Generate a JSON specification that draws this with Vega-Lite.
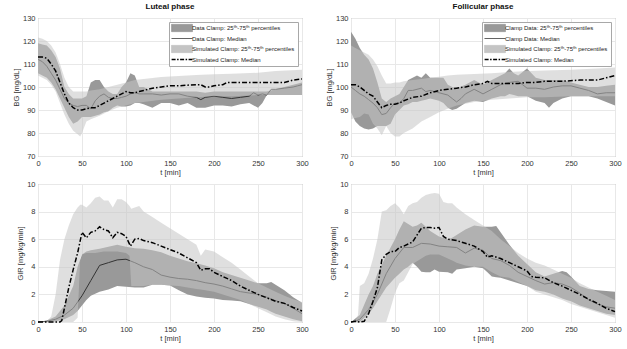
{
"$schema": "https://vega.github.io/schema/vega-lite/v6.json",
"background": "white",
"padding": {"left": 11, "top": 2, "right": 5, "bottom": 2},
"config": {
  "font": "Liberation Sans",
  "view": {"stroke": "#9a9a9a", "strokeWidth": 1},
  "axis": {"labelFontSize": 7.5, "titleFontSize": 7.5, "titleFontWeight": "normal", "labelColor": "#333333", "titleColor": "#333333", "gridColor": "#e8e8e8", "ticks": false, "domain": false, "labelPadding": 3, "titlePadding": 2, "labelFlush": false, "labelOverlap": false},
  "title": {"fontSize": 8, "fontWeight": "bold", "offset": 3, "color": "#111111"},
  "legend": {"orient": "top-right", "offset": 4, "title": null, "fillColor": "white", "strokeColor": "#a8a8a8", "padding": 3, "labelFontSize": 6, "labelColor": "#222222", "symbolSize": 64, "rowPadding": 1.5, "labelOffset": 7, "symbolOffset": 7, "labelLimit": 200}
},
"datasets": {
"lb": [
{"t":0,"s":"dband","y":106,"y2":119},{"t":5,"s":"dband","y":105,"y2":118.5},{"t":10,"s":"dband","y":104,"y2":118},{"t":15,"s":"dband","y":102,"y2":116},{"t":20,"s":"dband","y":99,"y2":113},{"t":25,"s":"dband","y":95,"y2":108},{"t":30,"s":"dband","y":91,"y2":100},{"t":35,"s":"dband","y":87,"y2":97},{"t":40,"s":"dband","y":84,"y2":95},{"t":45,"s":"dband","y":85,"y2":95},{"t":50,"s":"dband","y":87,"y2":95},{"t":55,"s":"dband","y":87,"y2":96},{"t":60,"s":"dband","y":87,"y2":102},{"t":65,"s":"dband","y":87.5,"y2":103},{"t":70,"s":"dband","y":88,"y2":103},{"t":75,"s":"dband","y":89,"y2":100},{"t":80,"s":"dband","y":89.5,"y2":98},{"t":85,"s":"dband","y":91,"y2":97},{"t":90,"s":"dband","y":92,"y2":97},{"t":95,"s":"dband","y":91.5,"y2":100},{"t":100,"s":"dband","y":91.5,"y2":102},{"t":105,"s":"dband","y":92,"y2":106},{"t":110,"s":"dband","y":93,"y2":105},{"t":115,"s":"dband","y":93,"y2":100},{"t":120,"s":"dband","y":92.5,"y2":100},{"t":130,"s":"dband","y":91,"y2":98},{"t":140,"s":"dband","y":93,"y2":98},{"t":150,"s":"dband","y":93,"y2":98},{"t":160,"s":"dband","y":92,"y2":98},{"t":170,"s":"dband","y":93,"y2":98},{"t":180,"s":"dband","y":91,"y2":98},{"t":190,"s":"dband","y":91,"y2":97.5},{"t":200,"s":"dband","y":92,"y2":98},{"t":210,"s":"dband","y":92,"y2":98},{"t":220,"s":"dband","y":91.5,"y2":98},{"t":230,"s":"dband","y":92.5,"y2":98},{"t":240,"s":"dband","y":93,"y2":98},{"t":250,"s":"dband","y":91,"y2":98},{"t":255,"s":"dband","y":93,"y2":98},{"t":260,"s":"dband","y":96.5,"y2":98},{"t":270,"s":"dband","y":96.5,"y2":99},{"t":280,"s":"dband","y":96.5,"y2":100},{"t":290,"s":"dband","y":96.5,"y2":101},{"t":300,"s":"dband","y":96.5,"y2":102},
{"t":0,"s":"sband","y":105,"y2":121.5},{"t":5,"s":"sband","y":104,"y2":121},{"t":10,"s":"sband","y":103,"y2":120},{"t":15,"s":"sband","y":101,"y2":118},{"t":20,"s":"sband","y":98,"y2":115},{"t":25,"s":"sband","y":93,"y2":110},{"t":30,"s":"sband","y":88,"y2":104},{"t":35,"s":"sband","y":84,"y2":100},{"t":40,"s":"sband","y":81,"y2":98},{"t":45,"s":"sband","y":79.5,"y2":98},{"t":48,"s":"sband","y":78.5,"y2":98},{"t":50,"s":"sband","y":80,"y2":98},{"t":55,"s":"sband","y":85,"y2":98},{"t":60,"s":"sband","y":86,"y2":98.5},{"t":70,"s":"sband","y":87.5,"y2":99},{"t":80,"s":"sband","y":89.5,"y2":100},{"t":90,"s":"sband","y":91,"y2":101},{"t":100,"s":"sband","y":92,"y2":102},{"t":110,"s":"sband","y":93,"y2":103},{"t":120,"s":"sband","y":93.5,"y2":103.5},{"t":140,"s":"sband","y":94.5,"y2":104.3},{"t":160,"s":"sband","y":95,"y2":104.8},{"t":180,"s":"sband","y":95.5,"y2":105.2},{"t":200,"s":"sband","y":96,"y2":105.5},{"t":220,"s":"sband","y":96,"y2":105.8},{"t":250,"s":"sband","y":96.5,"y2":106.2},{"t":270,"s":"sband","y":96.5,"y2":107},{"t":300,"s":"sband","y":96.5,"y2":107.5},
{"t":0,"s":"dmed","y":112},{"t":5,"s":"dmed","y":111},{"t":10,"s":"dmed","y":109},{"t":15,"s":"dmed","y":106},{"t":20,"s":"dmed","y":103},{"t":25,"s":"dmed","y":99},{"t":30,"s":"dmed","y":95},{"t":35,"s":"dmed","y":93},{"t":40,"s":"dmed","y":92},{"t":45,"s":"dmed","y":91.5},{"t":50,"s":"dmed","y":92},{"t":55,"s":"dmed","y":92},{"t":60,"s":"dmed","y":90.5},{"t":65,"s":"dmed","y":94},{"t":70,"s":"dmed","y":96},{"t":75,"s":"dmed","y":97},{"t":80,"s":"dmed","y":95.5},{"t":85,"s":"dmed","y":95},{"t":90,"s":"dmed","y":95},{"t":95,"s":"dmed","y":95.5},{"t":100,"s":"dmed","y":96},{"t":105,"s":"dmed","y":97},{"t":110,"s":"dmed","y":97.5},{"t":115,"s":"dmed","y":97},{"t":120,"s":"dmed","y":97},{"t":130,"s":"dmed","y":97},{"t":140,"s":"dmed","y":96.5},{"t":150,"s":"dmed","y":97},{"t":160,"s":"dmed","y":97},{"t":170,"s":"dmed","y":96},{"t":180,"s":"dmed","y":95.5},{"t":185,"s":"dmed","y":94.5},{"t":190,"s":"dmed","y":95.5},{"t":200,"s":"dmed","y":96},{"t":210,"s":"dmed","y":95.5},{"t":220,"s":"dmed","y":95},{"t":230,"s":"dmed","y":95.5},{"t":240,"s":"dmed","y":96},{"t":245,"s":"dmed","y":97.5},{"t":250,"s":"dmed","y":96.5},{"t":255,"s":"dmed","y":97},{"t":260,"s":"dmed","y":96.5},{"t":265,"s":"dmed","y":99},{"t":270,"s":"dmed","y":99},{"t":280,"s":"dmed","y":99.5},{"t":290,"s":"dmed","y":100},{"t":295,"s":"dmed","y":100.5},{"t":300,"s":"dmed","y":101},
{"t":0,"s":"smed","y":113},{"t":5,"s":"smed","y":113},{"t":10,"s":"smed","y":112.5},{"t":15,"s":"smed","y":110},{"t":20,"s":"smed","y":107},{"t":25,"s":"smed","y":102},{"t":30,"s":"smed","y":97},{"t":35,"s":"smed","y":93},{"t":40,"s":"smed","y":91},{"t":45,"s":"smed","y":90},{"t":50,"s":"smed","y":90},{"t":55,"s":"smed","y":90.5},{"t":60,"s":"smed","y":91},{"t":65,"s":"smed","y":91},{"t":70,"s":"smed","y":92},{"t":75,"s":"smed","y":93},{"t":80,"s":"smed","y":94},{"t":85,"s":"smed","y":95},{"t":90,"s":"smed","y":96},{"t":95,"s":"smed","y":97},{"t":100,"s":"smed","y":98},{"t":105,"s":"smed","y":97.5},{"t":110,"s":"smed","y":97.5},{"t":115,"s":"smed","y":98},{"t":120,"s":"smed","y":98.5},{"t":130,"s":"smed","y":99.5},{"t":140,"s":"smed","y":100},{"t":150,"s":"smed","y":100.5},{"t":160,"s":"smed","y":100.5},{"t":170,"s":"smed","y":100.8},{"t":180,"s":"smed","y":101},{"t":185,"s":"smed","y":101},{"t":190,"s":"smed","y":100},{"t":195,"s":"smed","y":100},{"t":200,"s":"smed","y":100.5},{"t":210,"s":"smed","y":101},{"t":215,"s":"smed","y":102},{"t":230,"s":"smed","y":102},{"t":250,"s":"smed","y":102},{"t":270,"s":"smed","y":102},{"t":280,"s":"smed","y":102},{"t":285,"s":"smed","y":102.5},{"t":290,"s":"smed","y":103},{"t":300,"s":"smed","y":103.5}
],
"fb": [
{"t":0,"s":"dband","y":89,"y2":124},{"t":5,"s":"dband","y":85,"y2":121},{"t":10,"s":"dband","y":83,"y2":117},{"t":15,"s":"dband","y":82,"y2":114},{"t":20,"s":"dband","y":81.5,"y2":112},{"t":25,"s":"dband","y":82,"y2":108},{"t":30,"s":"dband","y":83,"y2":102},{"t":35,"s":"dband","y":83,"y2":95},{"t":40,"s":"dband","y":83,"y2":93.5},{"t":45,"s":"dband","y":84,"y2":95},{"t":50,"s":"dband","y":88,"y2":96},{"t":55,"s":"dband","y":90,"y2":97},{"t":60,"s":"dband","y":92,"y2":100},{"t":65,"s":"dband","y":92.5,"y2":103},{"t":70,"s":"dband","y":93.5,"y2":104},{"t":75,"s":"dband","y":93.5,"y2":105},{"t":80,"s":"dband","y":94,"y2":104},{"t":85,"s":"dband","y":94.5,"y2":106},{"t":90,"s":"dband","y":95,"y2":104},{"t":100,"s":"dband","y":94,"y2":104},{"t":105,"s":"dband","y":93,"y2":104},{"t":110,"s":"dband","y":91,"y2":101},{"t":115,"s":"dband","y":90,"y2":100},{"t":120,"s":"dband","y":90.5,"y2":99.5},{"t":130,"s":"dband","y":93,"y2":101},{"t":140,"s":"dband","y":94,"y2":103},{"t":150,"s":"dband","y":93.5,"y2":101},{"t":160,"s":"dband","y":95,"y2":103},{"t":170,"s":"dband","y":96,"y2":105},{"t":175,"s":"dband","y":96,"y2":106},{"t":180,"s":"dband","y":97,"y2":108},{"t":185,"s":"dband","y":96.5,"y2":106},{"t":190,"s":"dband","y":96,"y2":105},{"t":200,"s":"dband","y":96,"y2":108},{"t":210,"s":"dband","y":94,"y2":104},{"t":220,"s":"dband","y":93,"y2":103},{"t":225,"s":"dband","y":91,"y2":103},{"t":230,"s":"dband","y":93,"y2":103},{"t":240,"s":"dband","y":95,"y2":103},{"t":250,"s":"dband","y":96,"y2":102},{"t":260,"s":"dband","y":96,"y2":101},{"t":270,"s":"dband","y":96,"y2":100},{"t":280,"s":"dband","y":95,"y2":100},{"t":290,"s":"dband","y":93.5,"y2":100.5},{"t":300,"s":"dband","y":92,"y2":101},
{"t":0,"s":"sband","y":86,"y2":118},{"t":5,"s":"sband","y":86.5,"y2":117},{"t":10,"s":"sband","y":87,"y2":116},{"t":15,"s":"sband","y":88.5,"y2":115},{"t":20,"s":"sband","y":88,"y2":114},{"t":25,"s":"sband","y":84,"y2":112},{"t":30,"s":"sband","y":82,"y2":109},{"t":35,"s":"sband","y":79,"y2":105},{"t":40,"s":"sband","y":83,"y2":101.5},{"t":45,"s":"sband","y":80,"y2":101.5},{"t":50,"s":"sband","y":78.5,"y2":102},{"t":55,"s":"sband","y":78.5,"y2":102},{"t":60,"s":"sband","y":80,"y2":102.5},{"t":70,"s":"sband","y":82,"y2":103},{"t":80,"s":"sband","y":85,"y2":103.5},{"t":90,"s":"sband","y":87,"y2":104},{"t":100,"s":"sband","y":89,"y2":104.5},{"t":110,"s":"sband","y":90.5,"y2":105},{"t":120,"s":"sband","y":92,"y2":105.3},{"t":140,"s":"sband","y":93.5,"y2":105.7},{"t":160,"s":"sband","y":94.5,"y2":106},{"t":180,"s":"sband","y":95,"y2":106.5},{"t":200,"s":"sband","y":95.5,"y2":107},{"t":220,"s":"sband","y":95.5,"y2":107.2},{"t":250,"s":"sband","y":96,"y2":107.5},{"t":280,"s":"sband","y":96,"y2":108},{"t":300,"s":"sband","y":96,"y2":108.5},
{"t":0,"s":"dmed","y":100},{"t":5,"s":"dmed","y":98.5},{"t":10,"s":"dmed","y":97},{"t":15,"s":"dmed","y":96},{"t":20,"s":"dmed","y":94.5},{"t":25,"s":"dmed","y":93},{"t":30,"s":"dmed","y":91},{"t":35,"s":"dmed","y":88},{"t":40,"s":"dmed","y":88.5},{"t":45,"s":"dmed","y":91},{"t":50,"s":"dmed","y":93},{"t":55,"s":"dmed","y":93},{"t":60,"s":"dmed","y":95},{"t":65,"s":"dmed","y":98.5},{"t":70,"s":"dmed","y":98.5},{"t":75,"s":"dmed","y":99},{"t":80,"s":"dmed","y":99.5},{"t":85,"s":"dmed","y":98},{"t":90,"s":"dmed","y":98.5},{"t":100,"s":"dmed","y":97.5},{"t":110,"s":"dmed","y":96.5},{"t":115,"s":"dmed","y":95},{"t":120,"s":"dmed","y":93.5},{"t":125,"s":"dmed","y":95},{"t":130,"s":"dmed","y":97},{"t":140,"s":"dmed","y":99},{"t":150,"s":"dmed","y":97},{"t":160,"s":"dmed","y":99},{"t":170,"s":"dmed","y":101},{"t":180,"s":"dmed","y":102},{"t":190,"s":"dmed","y":102.5},{"t":195,"s":"dmed","y":101},{"t":200,"s":"dmed","y":99.5},{"t":210,"s":"dmed","y":99.5},{"t":220,"s":"dmed","y":99},{"t":230,"s":"dmed","y":100},{"t":240,"s":"dmed","y":100.5},{"t":250,"s":"dmed","y":100.5},{"t":260,"s":"dmed","y":99.5},{"t":270,"s":"dmed","y":98.5},{"t":280,"s":"dmed","y":97},{"t":290,"s":"dmed","y":97.5},{"t":300,"s":"dmed","y":97.5},
{"t":0,"s":"smed","y":101},{"t":5,"s":"smed","y":101},{"t":10,"s":"smed","y":100},{"t":15,"s":"smed","y":98.5},{"t":20,"s":"smed","y":97},{"t":25,"s":"smed","y":96},{"t":30,"s":"smed","y":93.5},{"t":35,"s":"smed","y":91},{"t":40,"s":"smed","y":92},{"t":45,"s":"smed","y":92.5},{"t":50,"s":"smed","y":92.5},{"t":55,"s":"smed","y":93},{"t":60,"s":"smed","y":94},{"t":70,"s":"smed","y":95.5},{"t":80,"s":"smed","y":96},{"t":90,"s":"smed","y":97.5},{"t":100,"s":"smed","y":98.5},{"t":110,"s":"smed","y":99},{"t":120,"s":"smed","y":99.5},{"t":130,"s":"smed","y":100},{"t":140,"s":"smed","y":101},{"t":150,"s":"smed","y":101.5},{"t":155,"s":"smed","y":102.5},{"t":160,"s":"smed","y":101.5},{"t":170,"s":"smed","y":101.5},{"t":180,"s":"smed","y":101.5},{"t":190,"s":"smed","y":101.5},{"t":200,"s":"smed","y":102},{"t":210,"s":"smed","y":102},{"t":220,"s":"smed","y":102.5},{"t":240,"s":"smed","y":102.5},{"t":260,"s":"smed","y":103},{"t":280,"s":"smed","y":103},{"t":290,"s":"smed","y":104},{"t":300,"s":"smed","y":105}
],
"lg": [
{"t":0,"s":"dband","y":0,"y2":0},{"t":10,"s":"dband","y":0,"y2":0.1},{"t":20,"s":"dband","y":0.05,"y2":0.4},{"t":30,"s":"dband","y":0.2,"y2":1.2},{"t":40,"s":"dband","y":0.5,"y2":2.6},{"t":45,"s":"dband","y":0.8,"y2":4.0},{"t":50,"s":"dband","y":1.2,"y2":4.9},{"t":55,"s":"dband","y":1.6,"y2":5.1},{"t":60,"s":"dband","y":1.9,"y2":5.2},{"t":70,"s":"dband","y":2.2,"y2":5.3},{"t":80,"s":"dband","y":2.35,"y2":5.45},{"t":90,"s":"dband","y":2.6,"y2":5.6},{"t":100,"s":"dband","y":2.55,"y2":5.45},{"t":110,"s":"dband","y":2.5,"y2":5.35},{"t":120,"s":"dband","y":2.5,"y2":5.3},{"t":130,"s":"dband","y":2.7,"y2":5.2},{"t":140,"s":"dband","y":2.7,"y2":5.05},{"t":150,"s":"dband","y":2.65,"y2":4.8},{"t":160,"s":"dband","y":2.3,"y2":4.6},{"t":170,"s":"dband","y":2.0,"y2":4.4},{"t":180,"s":"dband","y":1.85,"y2":4.25},{"t":190,"s":"dband","y":1.75,"y2":4.1},{"t":200,"s":"dband","y":1.7,"y2":3.9},{"t":210,"s":"dband","y":1.6,"y2":3.6},{"t":220,"s":"dband","y":1.55,"y2":3.4},{"t":230,"s":"dband","y":1.5,"y2":3.2},{"t":240,"s":"dband","y":1.3,"y2":3.0},{"t":250,"s":"dband","y":1.1,"y2":2.8},{"t":260,"s":"dband","y":0.9,"y2":2.8},{"t":265,"s":"dband","y":0.75,"y2":2.9},{"t":270,"s":"dband","y":0.6,"y2":2.7},{"t":280,"s":"dband","y":0.4,"y2":2.3},{"t":290,"s":"dband","y":0.2,"y2":1.8},{"t":300,"s":"dband","y":0.05,"y2":1.4},
{"t":0,"s":"sband","y":0,"y2":0},{"t":10,"s":"sband","y":0,"y2":0.05},{"t":15,"s":"sband","y":0,"y2":0.4},{"t":20,"s":"sband","y":0,"y2":2.0},{"t":25,"s":"sband","y":0,"y2":4.5},{"t":30,"s":"sband","y":0,"y2":6.0},{"t":35,"s":"sband","y":0,"y2":7.0},{"t":40,"s":"sband","y":0,"y2":7.8},{"t":45,"s":"sband","y":0.3,"y2":8.3},{"t":48,"s":"sband","y":4.6,"y2":8.5},{"t":50,"s":"sband","y":4.9,"y2":8.5},{"t":55,"s":"sband","y":5.0,"y2":8.3},{"t":60,"s":"sband","y":5.0,"y2":8.6},{"t":65,"s":"sband","y":5.0,"y2":9.0},{"t":70,"s":"sband","y":5.05,"y2":9.1},{"t":75,"s":"sband","y":5.1,"y2":8.8},{"t":80,"s":"sband","y":5.1,"y2":8.8},{"t":85,"s":"sband","y":5.1,"y2":8.3},{"t":90,"s":"sband","y":5.1,"y2":8.9},{"t":95,"s":"sband","y":5.05,"y2":8.9},{"t":100,"s":"sband","y":5.0,"y2":8.7},{"t":104,"s":"sband","y":4.8,"y2":8.4},{"t":106,"s":"sband","y":2.6,"y2":8.2},{"t":110,"s":"sband","y":2.6,"y2":8.3},{"t":115,"s":"sband","y":2.6,"y2":8.4},{"t":120,"s":"sband","y":2.6,"y2":8.0},{"t":130,"s":"sband","y":2.7,"y2":7.6},{"t":140,"s":"sband","y":2.7,"y2":7.2},{"t":150,"s":"sband","y":2.65,"y2":6.8},{"t":160,"s":"sband","y":2.6,"y2":6.4},{"t":170,"s":"sband","y":2.5,"y2":6.0},{"t":180,"s":"sband","y":2.4,"y2":5.6},{"t":185,"s":"sband","y":2.35,"y2":4.8},{"t":190,"s":"sband","y":2.3,"y2":5.25},{"t":200,"s":"sband","y":2.2,"y2":5.1},{"t":210,"s":"sband","y":2.0,"y2":4.7},{"t":220,"s":"sband","y":1.8,"y2":4.3},{"t":230,"s":"sband","y":1.6,"y2":3.8},{"t":240,"s":"sband","y":1.3,"y2":3.3},{"t":250,"s":"sband","y":1.0,"y2":2.8},{"t":260,"s":"sband","y":0.7,"y2":2.5},{"t":270,"s":"sband","y":0.4,"y2":2.2},{"t":280,"s":"sband","y":0.2,"y2":1.9},{"t":290,"s":"sband","y":0.05,"y2":1.65},{"t":300,"s":"sband","y":0,"y2":1.45},
{"t":0,"s":"dmed","y":0},{"t":10,"s":"dmed","y":0.05},{"t":20,"s":"dmed","y":0.2},{"t":30,"s":"dmed","y":0.5},{"t":40,"s":"dmed","y":1.0},{"t":50,"s":"dmed","y":1.9},{"t":60,"s":"dmed","y":3.0},{"t":70,"s":"dmed","y":4.1},{"t":80,"s":"dmed","y":4.3},{"t":90,"s":"dmed","y":4.5},{"t":100,"s":"dmed","y":4.55},{"t":110,"s":"dmed","y":4.3},{"t":120,"s":"dmed","y":4.0},{"t":130,"s":"dmed","y":3.8},{"t":140,"s":"dmed","y":3.4},{"t":150,"s":"dmed","y":3.25},{"t":160,"s":"dmed","y":3.15},{"t":170,"s":"dmed","y":3.1},{"t":180,"s":"dmed","y":3.0},{"t":190,"s":"dmed","y":2.85},{"t":200,"s":"dmed","y":2.75},{"t":210,"s":"dmed","y":2.6},{"t":220,"s":"dmed","y":2.4},{"t":230,"s":"dmed","y":2.2},{"t":240,"s":"dmed","y":2.1},{"t":250,"s":"dmed","y":2.0},{"t":260,"s":"dmed","y":1.8},{"t":270,"s":"dmed","y":1.55},{"t":280,"s":"dmed","y":1.35},{"t":290,"s":"dmed","y":1.0},{"t":300,"s":"dmed","y":0.6},
{"t":0,"s":"smed","y":0},{"t":10,"s":"smed","y":0},{"t":20,"s":"smed","y":0},{"t":25,"s":"smed","y":0},{"t":27,"s":"smed","y":0.1},{"t":30,"s":"smed","y":1.0},{"t":35,"s":"smed","y":2.5},{"t":40,"s":"smed","y":3.8},{"t":45,"s":"smed","y":5.0},{"t":50,"s":"smed","y":6.5},{"t":55,"s":"smed","y":6.1},{"t":60,"s":"smed","y":6.5},{"t":65,"s":"smed","y":6.6},{"t":70,"s":"smed","y":6.9},{"t":75,"s":"smed","y":6.7},{"t":80,"s":"smed","y":6.6},{"t":85,"s":"smed","y":6.1},{"t":90,"s":"smed","y":6.5},{"t":95,"s":"smed","y":6.4},{"t":100,"s":"smed","y":6.2},{"t":105,"s":"smed","y":5.5},{"t":110,"s":"smed","y":6.0},{"t":115,"s":"smed","y":6.05},{"t":120,"s":"smed","y":5.9},{"t":130,"s":"smed","y":5.75},{"t":140,"s":"smed","y":5.5},{"t":150,"s":"smed","y":5.25},{"t":160,"s":"smed","y":5.0},{"t":170,"s":"smed","y":4.65},{"t":180,"s":"smed","y":4.3},{"t":185,"s":"smed","y":3.75},{"t":190,"s":"smed","y":3.85},{"t":195,"s":"smed","y":3.85},{"t":200,"s":"smed","y":3.6},{"t":210,"s":"smed","y":3.3},{"t":220,"s":"smed","y":3.0},{"t":230,"s":"smed","y":2.6},{"t":240,"s":"smed","y":2.3},{"t":250,"s":"smed","y":2.0},{"t":260,"s":"smed","y":1.75},{"t":270,"s":"smed","y":1.5},{"t":280,"s":"smed","y":1.35},{"t":290,"s":"smed","y":1.05},{"t":300,"s":"smed","y":0.8}
],
"fg": [
{"t":0,"s":"dband","y":0,"y2":0},{"t":10,"s":"dband","y":0,"y2":0.5},{"t":20,"s":"dband","y":0.6,"y2":2.0},{"t":25,"s":"dband","y":1.0,"y2":2.6},{"t":30,"s":"dband","y":1.5,"y2":3.5},{"t":40,"s":"dband","y":2.5,"y2":4.8},{"t":50,"s":"dband","y":3.2,"y2":6.0},{"t":55,"s":"dband","y":3.5,"y2":6.7},{"t":60,"s":"dband","y":3.8,"y2":7.3},{"t":65,"s":"dband","y":4.0,"y2":7.1},{"t":70,"s":"dband","y":4.3,"y2":6.9},{"t":75,"s":"dband","y":4.0,"y2":7.0},{"t":80,"s":"dband","y":3.65,"y2":7.2},{"t":85,"s":"dband","y":3.6,"y2":6.9},{"t":90,"s":"dband","y":3.6,"y2":6.6},{"t":95,"s":"dband","y":3.8,"y2":6.4},{"t":100,"s":"dband","y":3.65,"y2":6.2},{"t":110,"s":"dband","y":3.6,"y2":6.0},{"t":115,"s":"dband","y":3.5,"y2":6.1},{"t":120,"s":"dband","y":3.8,"y2":6.3},{"t":130,"s":"dband","y":3.9,"y2":6.7},{"t":140,"s":"dband","y":4.0,"y2":7.0},{"t":150,"s":"dband","y":3.9,"y2":6.9},{"t":155,"s":"dband","y":3.6,"y2":6.9},{"t":160,"s":"dband","y":3.3,"y2":6.9},{"t":165,"s":"dband","y":3.25,"y2":6.95},{"t":170,"s":"dband","y":3.2,"y2":6.5},{"t":180,"s":"dband","y":3.0,"y2":5.6},{"t":190,"s":"dband","y":2.8,"y2":4.8},{"t":200,"s":"dband","y":2.6,"y2":4.2},{"t":210,"s":"dband","y":2.3,"y2":3.6},{"t":220,"s":"dband","y":2.2,"y2":3.3},{"t":230,"s":"dband","y":2.0,"y2":3.5},{"t":240,"s":"dband","y":1.7,"y2":3.7},{"t":245,"s":"dband","y":1.6,"y2":3.6},{"t":250,"s":"dband","y":1.5,"y2":3.3},{"t":260,"s":"dband","y":1.2,"y2":2.6},{"t":270,"s":"dband","y":1.0,"y2":2.4},{"t":280,"s":"dband","y":0.8,"y2":2.3},{"t":290,"s":"dband","y":0.6,"y2":2.25},{"t":300,"s":"dband","y":0.5,"y2":2.2},
{"t":0,"s":"sband","y":0,"y2":0},{"t":5,"s":"sband","y":0,"y2":0.1},{"t":8,"s":"sband","y":0,"y2":0.5},{"t":10,"s":"sband","y":0,"y2":2.6},{"t":15,"s":"sband","y":0,"y2":2.8},{"t":20,"s":"sband","y":0,"y2":3.5},{"t":25,"s":"sband","y":0,"y2":4.6},{"t":30,"s":"sband","y":0,"y2":6.0},{"t":35,"s":"sband","y":0,"y2":8.0},{"t":40,"s":"sband","y":0,"y2":8.1},{"t":45,"s":"sband","y":1.0,"y2":8.4},{"t":50,"s":"sband","y":2.1,"y2":8.6},{"t":55,"s":"sband","y":2.8,"y2":8.3},{"t":60,"s":"sband","y":3.0,"y2":7.8},{"t":65,"s":"sband","y":3.6,"y2":8.4},{"t":70,"s":"sband","y":4.2,"y2":8.6},{"t":75,"s":"sband","y":4.4,"y2":8.7},{"t":80,"s":"sband","y":4.6,"y2":9.0},{"t":85,"s":"sband","y":4.8,"y2":9.2},{"t":90,"s":"sband","y":4.9,"y2":9.3},{"t":95,"s":"sband","y":4.9,"y2":9.35},{"t":100,"s":"sband","y":4.9,"y2":9.3},{"t":105,"s":"sband","y":4.75,"y2":8.7},{"t":110,"s":"sband","y":4.6,"y2":8.6},{"t":115,"s":"sband","y":4.45,"y2":8.6},{"t":120,"s":"sband","y":4.3,"y2":8.3},{"t":130,"s":"sband","y":4.1,"y2":7.8},{"t":140,"s":"sband","y":4.0,"y2":7.4},{"t":150,"s":"sband","y":4.0,"y2":7.0},{"t":160,"s":"sband","y":3.6,"y2":6.6},{"t":170,"s":"sband","y":3.3,"y2":6.0},{"t":180,"s":"sband","y":3.2,"y2":5.5},{"t":190,"s":"sband","y":2.9,"y2":5.0},{"t":200,"s":"sband","y":2.6,"y2":4.6},{"t":210,"s":"sband","y":2.2,"y2":4.3},{"t":220,"s":"sband","y":2.0,"y2":4.1},{"t":230,"s":"sband","y":1.8,"y2":3.8},{"t":240,"s":"sband","y":1.6,"y2":3.5},{"t":250,"s":"sband","y":1.3,"y2":3.2},{"t":260,"s":"sband","y":1.1,"y2":2.8},{"t":270,"s":"sband","y":0.9,"y2":2.5},{"t":280,"s":"sband","y":0.7,"y2":2.2},{"t":290,"s":"sband","y":0.5,"y2":1.9},{"t":300,"s":"sband","y":0.3,"y2":1.6},
{"t":0,"s":"dmed","y":0},{"t":5,"s":"dmed","y":0.05},{"t":10,"s":"dmed","y":0.2},{"t":20,"s":"dmed","y":0.9},{"t":30,"s":"dmed","y":2.0},{"t":40,"s":"dmed","y":3.5},{"t":50,"s":"dmed","y":4.6},{"t":60,"s":"dmed","y":5.4},{"t":70,"s":"dmed","y":5.4},{"t":80,"s":"dmed","y":5.7},{"t":90,"s":"dmed","y":5.65},{"t":100,"s":"dmed","y":5.5},{"t":110,"s":"dmed","y":5.45},{"t":120,"s":"dmed","y":5.4},{"t":130,"s":"dmed","y":5.0},{"t":140,"s":"dmed","y":5.35},{"t":150,"s":"dmed","y":5.2},{"t":160,"s":"dmed","y":4.6},{"t":170,"s":"dmed","y":4.45},{"t":180,"s":"dmed","y":4.1},{"t":190,"s":"dmed","y":3.6},{"t":200,"s":"dmed","y":3.3},{"t":210,"s":"dmed","y":3.0},{"t":220,"s":"dmed","y":2.75},{"t":230,"s":"dmed","y":2.85},{"t":240,"s":"dmed","y":2.75},{"t":250,"s":"dmed","y":2.5},{"t":260,"s":"dmed","y":2.1},{"t":270,"s":"dmed","y":1.6},{"t":280,"s":"dmed","y":1.3},{"t":290,"s":"dmed","y":1.1},{"t":300,"s":"dmed","y":1.0},
{"t":0,"s":"smed","y":0},{"t":5,"s":"smed","y":0.05},{"t":10,"s":"smed","y":0},{"t":15,"s":"smed","y":0.05},{"t":20,"s":"smed","y":0.6},{"t":25,"s":"smed","y":1.5},{"t":30,"s":"smed","y":2.5},{"t":35,"s":"smed","y":4.5},{"t":40,"s":"smed","y":4.9},{"t":45,"s":"smed","y":5.1},{"t":50,"s":"smed","y":5.1},{"t":55,"s":"smed","y":5.4},{"t":60,"s":"smed","y":5.5},{"t":65,"s":"smed","y":5.65},{"t":70,"s":"smed","y":5.8},{"t":75,"s":"smed","y":6.3},{"t":80,"s":"smed","y":6.8},{"t":85,"s":"smed","y":6.85},{"t":90,"s":"smed","y":6.85},{"t":95,"s":"smed","y":6.8},{"t":100,"s":"smed","y":6.85},{"t":105,"s":"smed","y":6.2},{"t":110,"s":"smed","y":6.0},{"t":120,"s":"smed","y":5.9},{"t":130,"s":"smed","y":5.7},{"t":140,"s":"smed","y":5.5},{"t":145,"s":"smed","y":5.3},{"t":150,"s":"smed","y":5.1},{"t":155,"s":"smed","y":4.7},{"t":160,"s":"smed","y":4.8},{"t":170,"s":"smed","y":4.6},{"t":180,"s":"smed","y":4.3},{"t":190,"s":"smed","y":4.0},{"t":200,"s":"smed","y":3.7},{"t":205,"s":"smed","y":3.3},{"t":210,"s":"smed","y":3.25},{"t":220,"s":"smed","y":3.2},{"t":230,"s":"smed","y":2.85},{"t":240,"s":"smed","y":2.6},{"t":250,"s":"smed","y":2.3},{"t":260,"s":"smed","y":2.0},{"t":270,"s":"smed","y":1.65},{"t":280,"s":"smed","y":1.35},{"t":290,"s":"smed","y":1.0},{"t":300,"s":"smed","y":0.75}
]
},
"columns": 2,
"spacing": {"row": 28, "column": 49},
"bounds": "flush",
"resolve": {"scale": {"color": "independent", "x": "independent", "y": "independent"}, "legend": {"color": "independent"}},
"concat": [
{
 "width": 264, "height": 138, "title": "Luteal phase", "data": {"name": "lb"},
 "encoding": {
  "x": {"field": "t", "type": "quantitative", "scale": {"domain": [0, 300], "nice": false}, "axis": {"values": [0,50,100,150,200,250,300], "title": "t [min]"}},
  "y": {"field": "y", "type": "quantitative", "scale": {"domain": [70, 130], "nice": false}, "axis": {"values": [70,80,90,100,110,120,130], "title": "BG [mg/dL]"}},
  "color": {"field": "s", "type": "nominal", "scale": {"domain": ["dband","dmed","sband","smed"], "range": ["#999999","#333333","#c4c4c4","#000000"]},
   "legend": {"labelExpr": "{'dband':'Data Clamp: 25ᵗʰ-75ᵗʰ percentiles','dmed':'Data Clamp: Median','sband':'Simulated Clamp: 25ᵗʰ-75ᵗʰ percentiles','smed':'Simulated Clamp: Median'}[datum.value]",
    "encode": {"symbols": {"update": {
     "shape": {"signal": "datum.value === 'dband' || datum.value === 'sband' ? 'M-2.6,-0.9H2.6V0.9H-2.6Z' : 'M-2.6,0H2.6'"},
     "fill": {"signal": "datum.value === 'dband' ? '#999999' : datum.value === 'sband' ? '#e0e0e0' : 'transparent'"},
     "stroke": {"signal": "datum.value === 'dmed' ? '#333333' : datum.value === 'smed' ? '#000000' : 'transparent'"},
     "strokeDash": {"signal": "datum.value === 'smed' ? [4, 1.5, 1.5, 1.5] : [1, 0]"},
     "strokeWidth": {"signal": "datum.value === 'smed' ? 1.5 : 1"},
     "opacity": {"value": 1}}}}}}
 },
 "layer": [
  {"transform": [{"filter": "datum.s === 'dband'"}], "mark": {"type": "area", "opacity": 1}, "encoding": {"y2": {"field": "y2"}}},
  {"transform": [{"filter": "datum.s === 'dmed'"}], "mark": {"type": "line", "strokeWidth": 1}},
  {"transform": [{"filter": "datum.s === 'sband'"}], "mark": {"type": "area", "opacity": 0.55}, "encoding": {"y2": {"field": "y2"}}},
  {"transform": [{"filter": "datum.s === 'smed'"}], "mark": {"type": "line", "strokeWidth": 1.5, "strokeDash": [5, 2, 1.5, 2]}}
 ]
},
{
 "width": 264, "height": 138, "title": "Follicular phase", "data": {"name": "fb"},
 "encoding": {
  "x": {"field": "t", "type": "quantitative", "scale": {"domain": [0, 300], "nice": false}, "axis": {"values": [0,50,100,150,200,250,300], "title": "t [min]"}},
  "y": {"field": "y", "type": "quantitative", "scale": {"domain": [70, 130], "nice": false}, "axis": {"values": [70,80,90,100,110,120,130], "title": "BG [mg/dL]"}},
  "color": {"field": "s", "type": "nominal", "scale": {"domain": ["dband","dmed","sband","smed"], "range": ["#999999","#333333","#c4c4c4","#000000"]},
   "legend": {"labelExpr": "{'dband':'Clamp Data: 25ᵗʰ-75ᵗʰ percentiles','dmed':'Clamp Data: Median','sband':'Simulated Clamp: 25ᵗʰ-75ᵗʰ percentiles','smed':'Simulated Clamp: Median'}[datum.value]",
    "encode": {"symbols": {"update": {
     "shape": {"signal": "datum.value === 'dband' || datum.value === 'sband' ? 'M-2.6,-0.9H2.6V0.9H-2.6Z' : 'M-2.6,0H2.6'"},
     "fill": {"signal": "datum.value === 'dband' ? '#999999' : datum.value === 'sband' ? '#e0e0e0' : 'transparent'"},
     "stroke": {"signal": "datum.value === 'dmed' ? '#333333' : datum.value === 'smed' ? '#000000' : 'transparent'"},
     "strokeDash": {"signal": "datum.value === 'smed' ? [4, 1.5, 1.5, 1.5] : [1, 0]"},
     "strokeWidth": {"signal": "datum.value === 'smed' ? 1.5 : 1"},
     "opacity": {"value": 1}}}}}}
 },
 "layer": [
  {"transform": [{"filter": "datum.s === 'dband'"}], "mark": {"type": "area", "opacity": 1}, "encoding": {"y2": {"field": "y2"}}},
  {"transform": [{"filter": "datum.s === 'dmed'"}], "mark": {"type": "line", "strokeWidth": 1}},
  {"transform": [{"filter": "datum.s === 'sband'"}], "mark": {"type": "area", "opacity": 0.55}, "encoding": {"y2": {"field": "y2"}}},
  {"transform": [{"filter": "datum.s === 'smed'"}], "mark": {"type": "line", "strokeWidth": 1.5, "strokeDash": [5, 2, 1.5, 2]}}
 ]
},
{
 "width": 264, "height": 138, "data": {"name": "lg"},
 "encoding": {
  "x": {"field": "t", "type": "quantitative", "scale": {"domain": [0, 300], "nice": false}, "axis": {"values": [0,50,100,150,200,250,300], "title": "t [min]"}},
  "y": {"field": "y", "type": "quantitative", "scale": {"domain": [0, 10], "nice": false}, "axis": {"values": [0,2,4,6,8,10], "title": "GIR [mg/kg/min]"}},
  "color": {"field": "s", "type": "nominal", "scale": {"domain": ["dband","dmed","sband","smed"], "range": ["#999999","#333333","#c4c4c4","#000000"]}, "legend": null}
 },
 "layer": [
  {"transform": [{"filter": "datum.s === 'dband'"}], "mark": {"type": "area", "opacity": 1}, "encoding": {"y2": {"field": "y2"}}},
  {"transform": [{"filter": "datum.s === 'dmed'"}], "mark": {"type": "line", "strokeWidth": 1}},
  {"transform": [{"filter": "datum.s === 'sband'"}], "mark": {"type": "area", "opacity": 0.55}, "encoding": {"y2": {"field": "y2"}}},
  {"transform": [{"filter": "datum.s === 'smed'"}], "mark": {"type": "line", "strokeWidth": 1.5, "strokeDash": [5, 2, 1.5, 2]}}
 ]
},
{
 "width": 264, "height": 138, "data": {"name": "fg"},
 "encoding": {
  "x": {"field": "t", "type": "quantitative", "scale": {"domain": [0, 300], "nice": false}, "axis": {"values": [0,50,100,150,200,250,300], "title": "t [min]"}},
  "y": {"field": "y", "type": "quantitative", "scale": {"domain": [0, 10], "nice": false}, "axis": {"values": [0,2,4,6,8,10], "title": "GIR [mg/kg/min]"}},
  "color": {"field": "s", "type": "nominal", "scale": {"domain": ["dband","dmed","sband","smed"], "range": ["#999999","#333333","#c4c4c4","#000000"]}, "legend": null}
 },
 "layer": [
  {"transform": [{"filter": "datum.s === 'dband'"}], "mark": {"type": "area", "opacity": 1}, "encoding": {"y2": {"field": "y2"}}},
  {"transform": [{"filter": "datum.s === 'dmed'"}], "mark": {"type": "line", "strokeWidth": 1}},
  {"transform": [{"filter": "datum.s === 'sband'"}], "mark": {"type": "area", "opacity": 0.55}, "encoding": {"y2": {"field": "y2"}}},
  {"transform": [{"filter": "datum.s === 'smed'"}], "mark": {"type": "line", "strokeWidth": 1.5, "strokeDash": [5, 2, 1.5, 2]}}
 ]
}
]
}
